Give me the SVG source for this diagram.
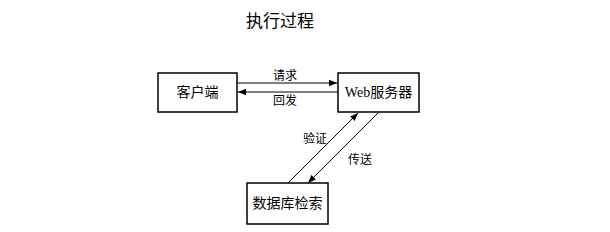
<svg xmlns="http://www.w3.org/2000/svg" width="610" height="232" viewBox="0 0 610 232">
<style>
.box{fill:#fff;stroke:#000;stroke-width:1.5}
.t{font-family:"Liberation Serif","Noto Sans CJK SC",serif;font-size:14px;fill:#000;text-anchor:middle;dominant-baseline:central}
.l{font-family:"Liberation Serif","Noto Sans CJK SC",serif;font-size:12px;fill:#000;text-anchor:middle;dominant-baseline:central}
.c{stroke:#000;stroke-width:1;fill:none}
</style>
<defs>
<marker id="ah" viewBox="0 0 10 10" refX="10" refY="5" markerWidth="8" markerHeight="8" orient="auto" markerUnits="userSpaceOnUse">
<path d="M0,1 L10,5 L0,9 Z" fill="#000"/>
</marker>
</defs>
<text x="280" y="21" class="t" style="font-size:17px">执行过程</text>
<g id="client"><rect class="box" x="158" y="73" width="79" height="39"/><text class="t" x="197.5" y="92.5">客户端</text></g>
<g id="web"><rect class="box" x="338" y="73" width="81" height="39"/><text class="t" x="378.5" y="92.5">Web服务器</text></g>
<g id="db"><rect class="box" x="247" y="183" width="81" height="41"/><text class="t" x="287.5" y="203.5">数据库检索</text></g>
<g id="connectors">
<line class="c" x1="237" y1="83" x2="337" y2="83" marker-end="url(#ah)"/>
<line class="c" x1="338" y1="92" x2="238" y2="92" marker-end="url(#ah)"/>
<line class="c" x1="288" y1="183" x2="358" y2="113" marker-end="url(#ah)"/>
<line class="c" x1="378" y1="113" x2="308" y2="183" marker-end="url(#ah)"/>
<text class="l" x="285" y="76">请求</text>
<text class="l" x="285" y="101">回发</text>
<text class="l" x="315" y="139">验证</text>
<text class="l" x="360" y="160">传送</text>
</g>
</svg>
